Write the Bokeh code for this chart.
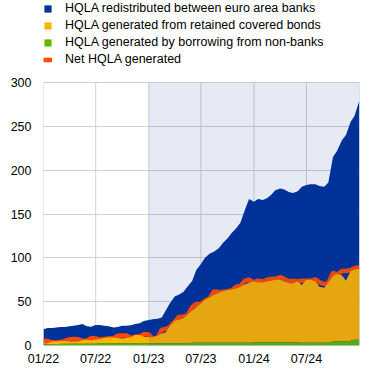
import pandas as pd
from bokeh.plotting import figure
from bokeh.models import (ColumnDataSource, Legend, LegendItem, BoxAnnotation,
                          FixedTicker, DatetimeTickFormatter, Range1d)
from bokeh.embed import file_html
from bokeh.resources import INLINE

# ---- data (semi-monthly observations, bn EUR) ----
dates = list(pd.date_range("2022-01-01", periods=72, freq="SMS")) + [pd.Timestamp("2024-12-31")]

green = [1.5, 1.5, 1.5, 1.5, 2, 2, 2, 2, 2, 2, 2, 2,
         2, 2.5, 2.5, 2.5, 2.5, 2.5, 2.5, 2.5, 2.5, 2.5, 2.5, 2.5,
         2.5, 2.5, 2.5, 2.5, 2.5, 2.5, 2.5, 2.5, 2.5, 2.5, 3, 3,
         3, 3, 3, 3, 3, 3, 3, 3, 3, 3, 3, 3,
         3.5, 3.5, 3.5, 3.5, 3.5, 3.5, 3.5, 3.5, 3.5, 3.5, 3.5, 3,
         3, 3, 3, 3, 3, 3.5, 4.5, 4.5, 4.5, 4.5, 5.5, 6.5, 6.5]

yellow = [1, 1, 3, 3, 3, 3, 2.5, 2.5, 2.5, 4, 4.5, 4,
          4.5, 5, 6, 6.5, 6.5, 6, 5.5, 6, 7, 9.5, 9.5, 7.5,
          7, 7, 8.5, 11, 12.5, 19.5, 25.5, 27, 28.5, 32.5, 37, 41,
          45, 49, 52, 55, 57, 59, 60, 61, 62, 64, 66.5, 69,
          69.5, 68.5, 68.5, 69.5, 70.5, 71.5, 71.5, 69.5, 67.5, 67.5, 69.5, 66,
          72, 72, 70, 64, 63, 68.5, 74.5, 77, 75.5, 69.5, 79.5, 80, 81]

blue = [16, 17.5, 15.5, 16, 16, 16, 17.5, 18, 19, 18.5, 15.5, 15.5,
        17, 16, 14, 13, 11.5, 12.5, 14.5, 14, 13.5, 12.5, 13.5, 18,
        19.5, 20.5, 19.5, 18.5, 25, 26, 28, 28.5, 30, 32, 34, 42,
        45, 48, 50, 49, 51, 55, 59, 64, 69, 73, 85.5, 95,
        91, 95, 94, 95, 98, 102, 104, 105, 104, 103, 103, 112,
        108, 109, 111, 115, 115, 114, 136, 140.5, 154, 166, 170, 175.5, 191.5]

net = [5, 5, 3.5, 3.5, 4, 5, 7, 7.5, 7, 5.5, 5.5, 8.5,
       8, 6.5, 7.5, 8, 8, 11, 11.5, 11.5, 8.5, 10, 10, 13,
       12.5, 8, 9, 18, 19, 21, 27, 32.5, 33, 34, 44, 47.5,
       47, 51, 54, 61.5, 61, 61, 62, 63, 67, 68, 74, 75,
       72, 74, 73, 75, 76, 76, 78, 76, 73, 74, 73, 74,
       74, 74, 75.5, 72, 70, 71, 83, 81, 85, 85, 86, 88.5, 89]

tick_dates = ["2022-01-01", "2022-07-01", "2023-01-01", "2023-07-01", "2024-01-01", "2024-07-01"]
y_ticks = [0, 50, 100, 150, 200, 250, 300]
y_max = 300
x_start, x_end = "2022-01-01", "2025-01-01"
shade_start = "2023-01-01"

labels = ["HQLA redistributed between euro area banks",
          "HQLA generated from retained covered bonds",
          "HQLA generated by borrowing from non-banks",
          "Net HQLA generated"]

BLUE, YELLOW, GREEN, RED = "#003299", "#FFB400", "#65B800", "#FF4B00"
GRID = "#d0d0d6"
FONT = "Liberation Sans"


def ms(d):
    return pd.Timestamp(d).value / 1e6


g_top = green
y_top = [g + y for g, y in zip(green, yellow)]
t_top = [a + b for a, b in zip(y_top, blue)]
zeros = [0] * len(dates)

src = ColumnDataSource(dict(x=dates, zero=zeros, g=g_top, y=y_top, t=t_top, net=net))

# frame spans the whole height; the upper part (above 300) holds the legend
FRAME_H = 345
PLOT_TOP_PX = 82
y_top_range = y_max * FRAME_H / (FRAME_H - PLOT_TOP_PX)

p = figure(width=372, height=389, x_axis_type="datetime",
           output_backend="svg", toolbar_location=None,
           x_range=Range1d(ms(x_start), ms(x_end)), y_range=Range1d(0, y_top_range),
           min_border_left=43, min_border_right=13, min_border_top=0, min_border_bottom=44)

# vertical grid lines limited to the 0-300 panel, plus right border
vx = [ms(d) for d in tick_dates] + [ms(x_end)]
p.segment(x0=vx, y0=[0] * len(vx), x1=vx, y1=[y_max] * len(vx),
          line_color=GRID, line_width=1, level="underlay")

r_blue = p.varea(x="x", y1="zero", y2="t", source=src, fill_color=BLUE)
r_net = p.line(x="x", y="net", source=src, line_color=RED, line_width=4.5)
r_yel = p.varea(x="x", y1="g", y2="y", source=src, fill_color=YELLOW)
r_grn = p.varea(x="x", y1="zero", y2="g", source=src, fill_color=GREEN)

p.add_layout(BoxAnnotation(left=ms(shade_start), right=ms(x_end), bottom=0, top=y_max,
                           fill_color=BLUE, fill_alpha=0.1, line_color=None))

p.xaxis.ticker = FixedTicker(ticks=[ms(d) for d in tick_dates])
fmt = "%m/%y"
p.xaxis.formatter = DatetimeTickFormatter(microseconds=fmt, milliseconds=fmt, seconds=fmt,
                                          minsec=fmt, minutes=fmt, hourmin=fmt, hours=fmt,
                                          days=fmt, months=fmt, years=fmt)
p.yaxis.ticker = FixedTicker(ticks=y_ticks)

for ax in (p.xaxis[0], p.yaxis[0]):
    ax.axis_line_color = None
    ax.major_tick_line_color = None
    ax.minor_tick_line_color = None
    ax.major_label_text_font = FONT
    ax.major_label_text_font_size = "12.5px"
    ax.major_label_text_color = "#000000"
p.yaxis.major_label_standoff = 6
p.xaxis.major_label_standoff = 0

p.xgrid.grid_line_color = None
p.ygrid.grid_line_color = GRID
p.ygrid.grid_line_width = 1
p.outline_line_color = None
p.background_fill_color = "white"
p.border_fill_color = "white"

legend = Legend(items=[LegendItem(label=labels[0], renderers=[r_blue]),
                       LegendItem(label=labels[1], renderers=[r_yel]),
                       LegendItem(label=labels[2], renderers=[r_grn]),
                       LegendItem(label=labels[3], renderers=[r_net])],
                location="top_left")
legend.glyph_width = 9
legend.glyph_height = 9
legend.label_standoff = 13
legend.padding = 0
legend.margin = 0
legend.spacing = 1
legend.label_height = 16
legend.border_line_color = None
legend.background_fill_alpha = 0
legend.label_text_font = FONT
legend.label_text_font_size = "12.5px"
legend.label_text_color = "#000000"
p.add_layout(legend, "center")

open("out.html", "w").write(file_html(p, INLINE))
